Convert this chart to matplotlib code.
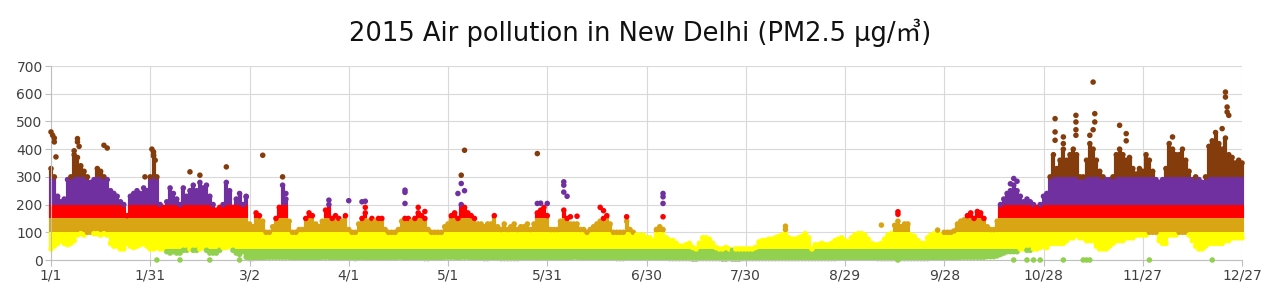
import numpy as np
import matplotlib
matplotlib.use('Agg')
import matplotlib.pyplot as plt

# ---- data (day index 0 = Jan 1) ----
days = np.arange(361)

daily_low = [
    40, 50, 60, 70, 60, 55, 60, 70, 90, 95,
    90, 100, 100, 95, 95, 90, 95, 90, 60, 50,
    50, 40, 40, 60, 50, 45, 50, 55, 60, 50,
    40, 40, 45, 40, 40, 30, 25, 30, 25, 25,
    35, 35, 40, 35, 35, 40, 45, 35, 25, 25,
    25, 35, 45, 45, 50, 35, 25, 20, 30, 10,
    5, 5, 8, 8, 8, 10, 10, 10, 10, 10,
    10, 10, 10, 8, 8, 8, 8, 8, 8, 8,
    8, 8, 10, 10, 10, 8, 8, 8, 8, 8,
    8, 8, 5, 8, 10, 8, 8, 8, 8, 8,
    8, 8, 8, 10, 8, 10, 10, 8, 8, 8,
    8, 8, 8, 5, 5, 8, 8, 8, 8, 10,
    10, 10, 10, 8, 10, 10, 10, 8, 8, 8,
    8, 5, 5, 8, 8, 8, 5, 5, 5, 5,
    5, 5, 8, 8, 8, 8, 8, 8, 8, 10,
    8, 8, 8, 8, 8, 8, 8, 8, 10, 10,
    8, 8, 8, 8, 8, 8, 8, 8, 8, 8,
    8, 5, 5, 5, 8, 8, 8, 8, 8, 8,
    8, 8, 8, 8, 8, 8, 8, 5, 5, 5,
    5, 5, 5, 5, 3, 3, 5, 5, 5, 5,
    5, 5, 5, 3, 3, 5, 3, 3, 3, 5,
    5, 5, 5, 5, 5, 5, 5, 5, 5, 5,
    5, 5, 5, 5, 5, 5, 5, 5, 5, 5,
    5, 5, 5, 5, 5, 5, 5, 5, 8, 8,
    8, 8, 8, 8, 8, 8, 8, 8, 8, 8,
    5, 5, 5, 5, 5, 5, 5, 5, 5, 5,
    5, 5, 5, 5, 5, 5, 8, 8, 8, 8,
    8, 8, 8, 8, 8, 10, 10, 10, 10, 10,
    10, 10, 10, 12, 12, 12, 15, 20, 25, 30,
    30, 30, 30, 40, 40, 35, 35, 40, 40, 45,
    50, 45, 60, 60, 60, 60, 60, 70, 80, 80,
    90, 80, 80, 70, 70, 70, 50, 40, 40, 40,
    50, 60, 70, 70, 70, 80, 80, 80, 90, 90,
    90, 90, 100, 100, 100, 70, 60, 60, 90, 90,
    90, 100, 100, 100, 90, 70, 50, 40, 40, 50,
    60, 60, 60, 60, 60, 70, 70, 80, 80, 80,
    80,
]

daily_high = [
    330, 300, 230, 210, 220, 290, 300, 380, 370, 340,
    320, 300, 280, 290, 330, 320, 300, 290, 250, 240,
    230, 210, 200, 160, 230, 240, 250, 240, 260, 250,
    300, 380, 300, 200, 190, 210, 260, 240, 220, 200,
    260, 230, 250, 270, 250, 280, 260, 270, 230, 200,
    180, 190, 200, 280, 250, 190, 220, 240, 200, 230,
    130, 120, 170, 160, 140, 100, 100, 120, 150, 190,
    270, 220, 140, 100, 100, 110, 110, 150, 170, 160,
    130, 120, 140, 180, 200, 150, 160, 150, 140, 160,
    110, 100, 100, 130, 150, 170, 140, 150, 140, 150,
    150, 110, 100, 100, 100, 110, 140, 150, 150, 140,
    150, 170, 160, 150, 110, 100, 100, 100, 100, 120,
    130, 160, 170, 150, 200, 190, 170, 160, 150, 130,
    130, 120, 130, 130, 160, 120, 110, 130, 110, 120,
    130, 110, 120, 120, 130, 110, 130, 170, 180, 190,
    160, 110, 110, 110, 140, 180, 150, 130, 130, 130,
    110, 110, 100, 110, 120, 130, 140, 150, 160, 130,
    100, 100, 100, 100, 140, 110, 100, 90, 90, 90,
    80, 80, 70, 110, 120, 110, 80, 70, 70, 60,
    50, 50, 55, 60, 45, 40, 60, 80, 80, 75,
    60, 45, 40, 40, 45, 40, 35, 40, 40, 40,
    40, 40, 40, 45, 65, 70, 70, 75, 75, 80,
    85, 90, 95, 80, 75, 75, 80, 85, 95, 80,
    40, 55, 55, 60, 55, 55, 60, 70, 75, 80,
    70, 65, 80, 90, 95, 95, 90, 75, 60, 55,
    55, 60, 75, 90, 95, 125, 140, 120, 130, 130,
    90, 85, 70, 60, 60, 80, 90, 95, 95, 90,
    100, 100, 100, 105, 130, 140, 145, 160, 170, 150,
    175, 170, 150, 120, 110, 110, 140, 200, 220, 240,
    250, 270, 250, 230, 210, 220, 210, 200, 190, 200,
    230, 240, 300, 380, 330, 360, 400, 360, 380, 400,
    380, 300, 300, 360, 420, 400, 360, 320, 300, 290,
    290, 300, 380, 400, 380, 360, 370, 330, 310, 330,
    320, 380, 360, 320, 290, 280, 290, 330, 420, 400,
    380, 380, 400, 360, 320, 290, 300, 290, 280, 300,
    410, 430, 460, 420, 400, 440, 380, 370, 350, 360,
    350,
]

# isolated hourly readings outside the dense daily band
extra_days = [0, 0.5, 1, 1, 1.5, 7, 8, 8, 8.5, 16, 17,
              28.4, 30.5, 31, 31, 31.5, 42, 45, 53, 32, 39, 48, 57,
              59, 64, 70, 71, 84,
              90, 94, 95, 95, 107, 107, 107, 111, 113,
              123, 124, 124, 125, 125, 147, 147, 148,
              150, 155, 155, 155, 156, 157, 159, 166, 167, 174,
              185, 185, 185, 185,
              222, 222,
              251, 256, 256, 268, 256,
              291, 292, 290, 291, 295, 297, 299,
              303.5, 303.5, 303.5, 306, 306, 309.8, 309.8, 309.8, 309.8,
              315, 315.5, 315.5, 315, 314, 323, 325, 325,
              306, 312, 313, 314,
              355, 355, 355.5, 355.5, 356, 354, 339, 332, 351]
extra_values = [462, 450, 440, 426, 372, 394, 438, 426, 410, 414, 404,
                300, 400, 390, 375, 360, 318, 306, 336, 0, 0, 0, 0,
                228, 378, 300, 240, 216,
                214, 210, 212, 190, 252, 244, 204, 190, 175,
                240, 306, 276, 396, 250, 384, 204, 205,
                204, 282, 270, 245, 230, 156, 158, 190, 178, 156,
                240, 228, 204, 156,
                122, 110,
                126, 174, 165, 108, 0,
                294, 284, 275, 0, 0, 0, 0,
                510, 462, 432, 444, 420, 522, 498, 470, 450,
                642, 528, 498, 470, 450, 486, 456, 430,
                0, 0, 0, 0,
                606, 588, 552, 534, 522, 474, 444, 0, 0]

tick_days = [0, 30, 60, 90, 120, 150, 180, 210, 240, 270, 300, 330, 360]
tick_labels = ['1/1', '1/31', '3/2', '4/1', '5/1', '5/31', '6/30', '7/30',
               '8/29', '9/28', '10/28', '11/27', '12/27']
y_ticks = [0, 100, 200, 300, 400, 500, 600, 700]

band_edges = [0, 38, 100, 150, 200, 300, 2000]
band_colors = ['#92D050', '#FFFF00', '#D9A514', '#FF0000', '#7030A0', '#843C0C']


def band_color_list(values):
    v = np.asarray(values, dtype=float)
    idx = np.clip(np.digitize(v, band_edges) - 1, 0, len(band_colors) - 1)
    return [band_colors[i] for i in idx]


# ---- figure ----
fig = plt.figure(figsize=(12.8, 2.98), dpi=100)
ax = fig.add_axes([51 / 1280, 38 / 298, 1191 / 1280, 194 / 298])

lo = np.array(daily_low, dtype=float)
hi = np.array(daily_high, dtype=float)
for b0, b1, col in zip(band_edges[:-1], band_edges[1:], band_colors):
    y0 = np.maximum(lo, b0)
    y1 = np.minimum(hi, b1)
    m = y1 > y0
    ax.vlines(days[m], y0[m], y1[m], colors=col, linewidth=3.0,
              zorder=2, clip_on=False)

# round dots at the ends of each day's band (highest / lowest hourly value)
ax.scatter(days, hi, s=16, c=band_color_list(hi), linewidths=0, zorder=2.5,
           clip_on=False)
ax.scatter(days, lo, s=16, c=band_color_list(lo), linewidths=0, zorder=2.5,
           clip_on=False)

ev = np.array(extra_values, dtype=float)
ax.scatter(extra_days, ev, s=16, c=band_color_list(ev),
           linewidths=0, zorder=3, clip_on=False)

ax.set_xlim(0, 360)
ax.set_ylim(0, 700)
ax.set_xticks(tick_days)
ax.set_xticklabels(tick_labels)
ax.set_yticks(y_ticks)
ax.grid(True, color='#d9d9d9', linewidth=0.8)
ax.set_axisbelow(True)
for s in ['top', 'right']:
    ax.spines[s].set_visible(False)
for s in ['left', 'bottom']:
    ax.spines[s].set_color('#bfbfbf')
    ax.spines[s].set_linewidth(0.8)
ax.tick_params(axis='both', colors='#bfbfbf', labelcolor='#404040',
               labelsize=10, length=4, width=0.8, pad=2)

fig.text(0.5, 1 - 33 / 298, '2015 Air pollution in New Delhi (PM2.5 μg/㎥)',
         ha='center', va='center', fontsize=18.5, color='#111111',
         family=['DejaVu Sans', 'Noto Sans CJK JP'])

fig.savefig('out.png', dpi=100)
